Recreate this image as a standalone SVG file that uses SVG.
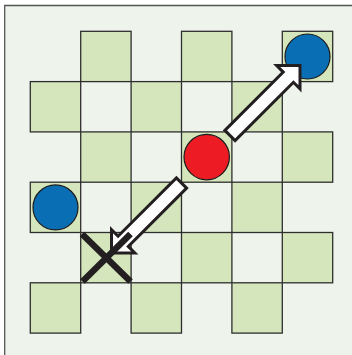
<svg xmlns="http://www.w3.org/2000/svg" width="352" height="355" viewBox="0 0 352 355">
  <style>
    .bg { fill: #eef3ec; }
    .frame { stroke: #555555; stroke-width: 1.3; fill: none; }
    .sq { fill: #d5e6bd; stroke: #2e2e2e; stroke-width: 1.3; }
    .blue { fill: #0a6eb5; stroke: #1c1c1c; stroke-width: 1.2; }
    .red { fill: #ed1c24; stroke: #1c1c1c; stroke-width: 1.2; }
    .arrow { fill: #ffffff; stroke: #231f20; stroke-width: 3; stroke-linejoin: miter; }
    .cross { stroke: #231f20; stroke-width: 6.5; stroke-linecap: butt; }
  </style>
  <defs>
    <polygon id="arrowShape" points="0,-7.2 82.5,-7.2 82.5,-16.5 99,0 82.5,16.5 82.5,7.2 0,7.2"/>
  </defs>
  <rect class="bg" x="4.7" y="5.5" width="348" height="350"/>
  <path class="frame" d="M4.7,355 V5.5 H352"/>
  <g id="board">
    <rect class="sq" x="80.7" y="31.3" width="50.4" height="50.3"/>
    <rect class="sq" x="181.5" y="31.3" width="50.4" height="50.3"/>
    <rect class="sq" x="282.3" y="31.3" width="50.4" height="50.3"/>
    <rect class="sq" x="30.3" y="81.6" width="50.4" height="50.3"/>
    <rect class="sq" x="131.1" y="81.6" width="50.4" height="50.3"/>
    <rect class="sq" x="231.9" y="81.6" width="50.4" height="50.3"/>
    <rect class="sq" x="80.7" y="131.9" width="50.4" height="50.3"/>
    <rect class="sq" x="181.5" y="131.9" width="50.4" height="50.3"/>
    <rect class="sq" x="282.3" y="131.9" width="50.4" height="50.3"/>
    <rect class="sq" x="30.3" y="182.2" width="50.4" height="50.3"/>
    <rect class="sq" x="131.1" y="182.2" width="50.4" height="50.3"/>
    <rect class="sq" x="231.9" y="182.2" width="50.4" height="50.3"/>
    <rect class="sq" x="80.7" y="232.5" width="50.4" height="50.3"/>
    <rect class="sq" x="181.5" y="232.5" width="50.4" height="50.3"/>
    <rect class="sq" x="282.3" y="232.5" width="50.4" height="50.3"/>
    <rect class="sq" x="30.3" y="282.8" width="50.4" height="50.3"/>
    <rect class="sq" x="131.1" y="282.8" width="50.4" height="50.3"/>
    <rect class="sq" x="231.9" y="282.8" width="50.4" height="50.3"/>
  </g>
  <g id="blue-top-right">
    <circle class="blue" cx="307.5" cy="56.5" r="22.5"/>
  </g>
  <g id="blue-left">
    <circle class="blue" cx="55.5" cy="207.4" r="22.5"/>
  </g>
  <g id="red-center">
    <circle class="red" cx="206.7" cy="157.1" r="22.7"/>
  </g>
  <g id="connectors">
    <use href="#arrowShape" class="arrow" transform="translate(230,135.5) rotate(-45)"/>
    <use href="#arrowShape" class="arrow" transform="translate(181.5,183) rotate(135)"/>
  </g>
  <g id="cross-mark">
    <line class="cross" x1="82" y1="234" x2="130.5" y2="281.5"/>
    <line class="cross" x1="82.5" y1="281.5" x2="130.5" y2="234"/>
  </g>
</svg>
